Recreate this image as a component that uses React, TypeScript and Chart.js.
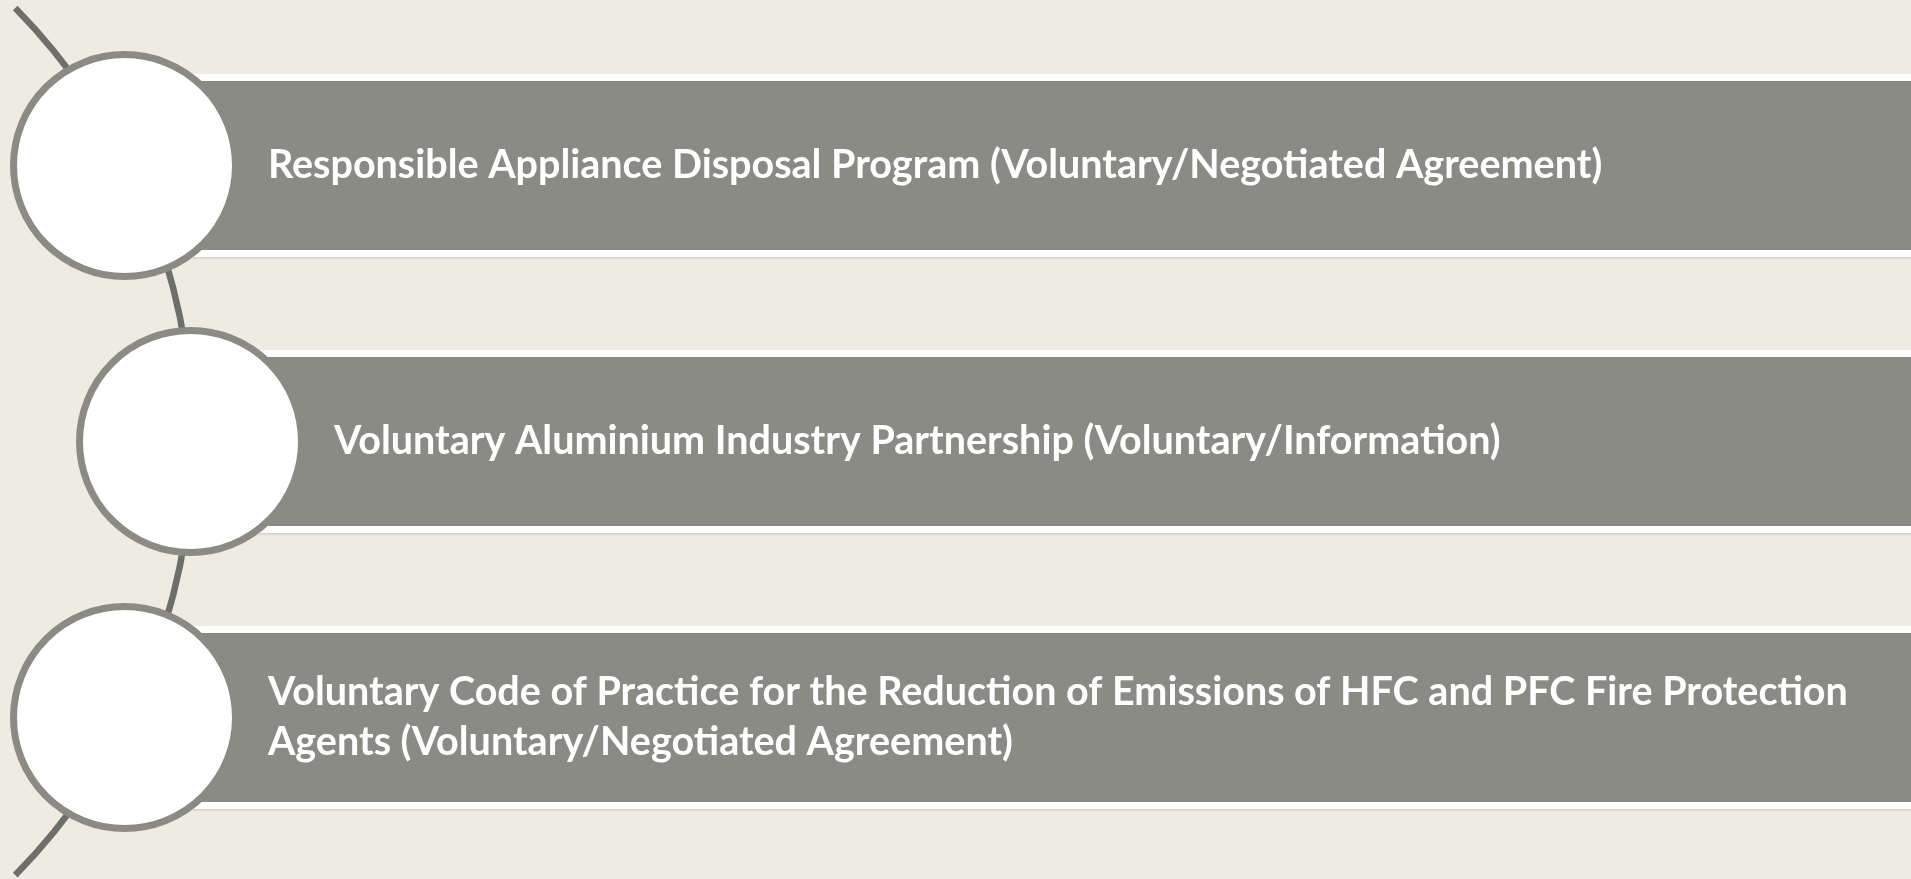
import React, { useEffect, useRef } from "react";
import { Chart, registerables } from "chart.js";

Chart.register(...registerables);

// ---- data ----
const itemLines: string[][] = [
  ["Responsible Appliance Disposal Program (Voluntary/Negotiated Agreement)"],
  ["Voluntary Aluminium Industry Partnership (Voluntary/Information)"],
  [
    "Voluntary Code of Practice for the Reduction of Emissions of HFC and PFC Fire Protection",
    "Agents (Voluntary/Negotiated Agreement)",
  ],
];
const rowIndex = [0, 1, 2];
const itemIndent = [0, 1, 0];

// ---- layout / style constants (chart units) ----
const X_MIN = 0;
const X_MAX = 100;
const Y_MIN = -0.6;
const Y_MAX = 2.585;
const CIRCLE_X0 = 6.515;
const INDENT_STEP = 3.454;
const BAR_OFFSET = 3.585;
const TEXT_OFFSET = 3.92;
const ARC_CX = -22.32;
const ARC_CY = 1;
const ARC_R = 32.39;
const ARC_SPAN = 0.776; // radians either side of horizontal

const BG = "#EEEBE3";
const BAR = "#8B8B85";
const RING = "#8B8B84";
const ARC = "#6E6F6A";
const FONT = "bold 39.5px Lato, 'Open Sans', sans-serif";
const LINE_H = 50;

export default function App() {
  const ref = useRef<HTMLCanvasElement | null>(null);

  useEffect(() => {
    if (!ref.current) return;
    const circleX = itemIndent.map((d) => CIRCLE_X0 + d * INDENT_STEP);
    const barStart = circleX.map((x) => x + BAR_OFFSET);

    const decor = {
      id: "decor",
      beforeDraw(chart: any) {
        const { ctx, width, height } = chart;
        ctx.save();
        ctx.fillStyle = BG;
        ctx.fillRect(0, 0, width, height);
        ctx.restore();
      },
      beforeDatasetsDraw(chart: any) {
        const { ctx } = chart;
        const xs = chart.scales.x;
        const ys = chart.scales.y;
        const cx = xs.getPixelForValue(ARC_CX);
        const cy = ys.getPixelForValue(ARC_CY);
        const r = xs.getPixelForValue(ARC_CX + ARC_R) - cx;
        ctx.save();
        ctx.strokeStyle = ARC;
        ctx.lineWidth = 6.5;
        ctx.lineCap = "butt";
        ctx.beginPath();
        ctx.arc(cx, cy, r, -ARC_SPAN, ARC_SPAN);
        ctx.stroke();
        // thin grey rule under each bar
        const meta = chart.getDatasetMeta(0);
        ctx.fillStyle = "#D2D0C8";
        meta.data.forEach((bar: any) => {
          const p = bar.getProps(["x", "y", "base", "height"], true);
          ctx.fillRect(p.base, p.y + p.height / 2, chart.width - p.base, 1.5);
        });
        ctx.restore();
      },
      afterDatasetsDraw(chart: any) {
        const { ctx } = chart;
        const xs = chart.scales.x;
        const ys = chart.scales.y;
        ctx.save();
        ctx.fillStyle = "#FFFFFF";
        ctx.font = FONT;
        ctx.textAlign = "left";
        ctx.textBaseline = "alphabetic";
        itemLines.forEach((lines, i) => {
          const tx = xs.getPixelForValue(barStart[i] + TEXT_OFFSET);
          const cy = ys.getPixelForValue(rowIndex[i]);
          const n = lines.length;
          lines.forEach((line, j) => {
            const y = cy + (j - (n - 1) / 2) * LINE_H + 12;
            ctx.fillText(line, tx, y);
          });
        });
        ctx.restore();
      },
    };

    const chart = new Chart(ref.current, {
      type: "bar",
      data: {
        datasets: [
          {
            type: "bar",
            data: rowIndex.map((r, i) => ({ x: [barStart[i], X_MAX], y: r })) as any,
            backgroundColor: BAR,
            borderColor: "#FFFFFF",
            borderWidth: { top: 7, bottom: 7, left: 0, right: 0 } as any,
            borderSkipped: false,
            categoryPercentage: 1,
            barPercentage: 0.663,
            order: 2,
          } as any,
          {
            type: "scatter",
            data: rowIndex.map((r, i) => ({ x: circleX[i], y: r })),
            backgroundColor: "#FFFFFF",
            borderColor: RING,
            borderWidth: 7,
            pointRadius: 111,
            pointHoverRadius: 111,
            pointStyle: "circle",
            clip: false,
            order: 1,
          } as any,
        ],
      },
      options: {
        indexAxis: "y",
        responsive: false,
        animation: false,
        events: [],
        layout: { padding: 0, autoPadding: false } as any,
        plugins: { legend: { display: false }, tooltip: { enabled: false } },
        scales: {
          x: { type: "linear", min: X_MIN, max: X_MAX, display: false, offset: false },
          y: {
            type: "linear",
            min: Y_MIN,
            max: Y_MAX,
            reverse: true,
            display: false,
            offset: false,
            grace: 0,
            afterBuildTicks: (scale: any) => {
              scale.ticks = rowIndex.map((v) => ({ value: v }));
            },
          } as any,
        },
      },
      plugins: [decor],
    });
    return () => chart.destroy();
  }, []);

  return (
    <div style={{ position: "fixed", left: 0, top: 0, width: 1911, height: 879, background: BG }}>
      <canvas ref={ref} width={1911} height={879} style={{ display: "block" }} />
    </div>
  );
}
